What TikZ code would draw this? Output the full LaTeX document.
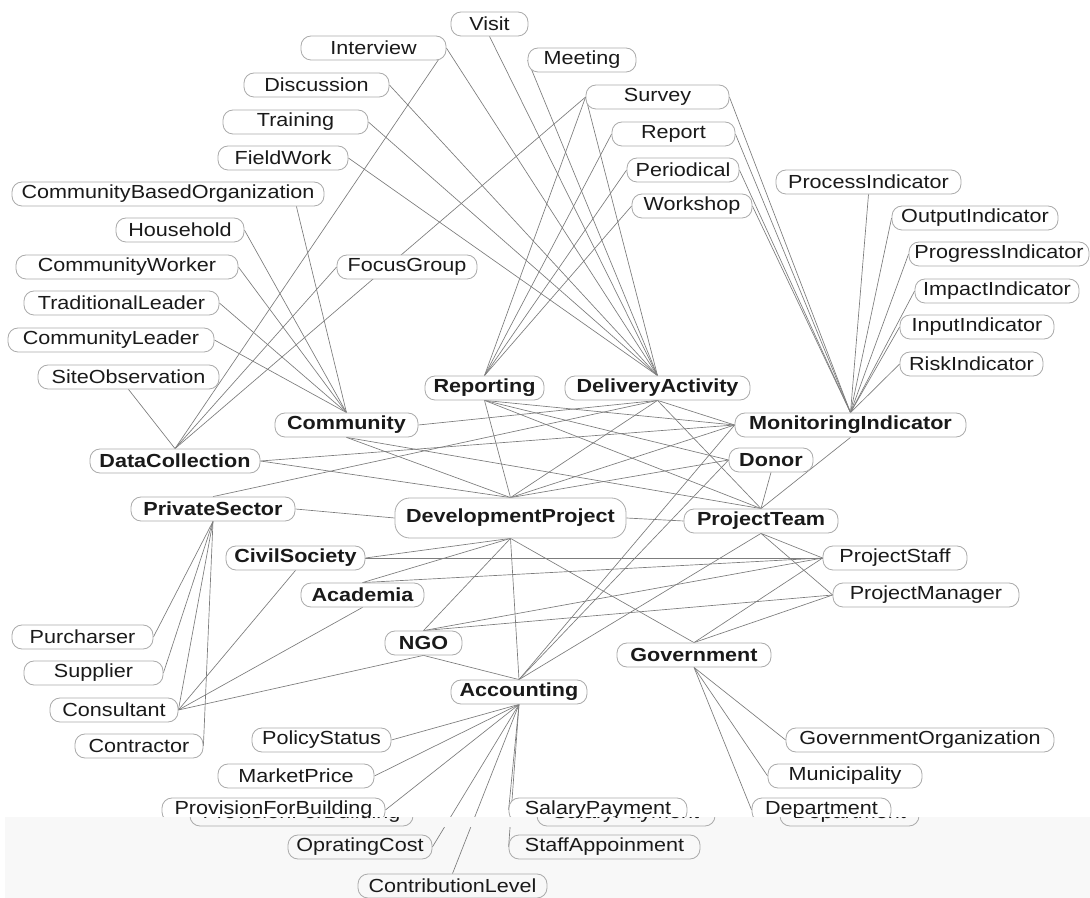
\documentclass[tikz,border=0pt]{standalone}
\usepackage{fontspec}
\setmainfont[FakeStretch=1.14]{Liberation Sans}
\usetikzlibrary{calc}
\definecolor{boxgray}{HTML}{ABABAB}
\definecolor{linegray}{HTML}{7C7C7C}
\definecolor{txt}{HTML}{1A1A1A}
\definecolor{bandc}{HTML}{F8F8F8}
\pgfdeclarelayer{back}\pgfdeclarelayer{edges}\pgfdeclarelayer{front}
\pgfsetlayers{back,edges,main,front}
\tikzset{
  box/.style={draw=boxgray, line width=0.6pt, rounded corners=7.5pt, minimum height=18pt,
    inner sep=0pt, fill=white, text=txt, font=\fontsize{14.2}{16}\selectfont},
  hub/.style={box, font=\fontsize{14.2}{16}\selectfont\bfseries},
  nw/.style={minimum width=#1*0.75pt},
  conn/.style={draw=linegray, line width=0.5pt}
}
\begin{document}
\begin{tikzpicture}[x=0.75pt,y=-0.75pt]
\useasboundingbox (0,0) rectangle (1090,898);
\begin{pgfonlayer}{back}
\fill[bandc] (5,817) rectangle (1090,898);
\end{pgfonlayer}
% leaves top-left
\node[box,nw=77]  (visit) at (489.5,24) {Visit};
\node[box,nw=145] (interview) at (373.5,48) {Interview};
\node[box,nw=145] (discussion) at (316.5,85) {Discussion};
\node[box,nw=145] (training) at (295.5,122) {Training};
\node[box,nw=130] (fieldwork) at (283,158) {FieldWork};
\node[box,nw=312] (cbo) at (168,194) {CommunityBasedOrganization};
\node[box,nw=128] (household) at (180,230) {Household};
\node[box,nw=222] (commworker) at (127,267) {CommunityWorker};
\node[box,nw=140] (focusgroup) at (407,267) {FocusGroup};
\node[box,nw=195] (tradleader) at (121.5,303) {TraditionalLeader};
\node[box,nw=206] (commleader) at (111,340) {CommunityLeader};
\node[box,nw=181] (siteobs) at (128.5,377) {SiteObservation};
% leaves top-right
\node[box,nw=108] (meeting) at (582,60) {Meeting};
\node[box,nw=143] (survey) at (657.5,97) {Survey};
\node[box,nw=123] (report) at (673.5,134) {Report};
\node[box,nw=112] (periodical) at (683,170) {Periodical};
\node[box,nw=120] (workshop) at (692,206) {Workshop};
\node[box,nw=185] (processind) at (868.5,182) {ProcessIndicator};
\node[box,nw=166] (outputind) at (975,218) {OutputIndicator};
\node[box,nw=180] (progressind) at (999,254) {ProgressIndicator};
\node[box,nw=164] (impactind) at (997,291) {ImpactIndicator};
\node[box,nw=154] (inputind) at (977,327) {InputIndicator};
\node[box,nw=143] (riskind) at (971.5,364) {RiskIndicator};
% hubs
\node[hub,nw=119] (reporting) at (484.5,388) {Reporting};
\node[hub,nw=185] (delivery) at (657.5,388) {DeliveryActivity};
\node[hub,nw=143] (community) at (346.5,425) {Community};
\node[hub,nw=231] (monitoring) at (850.5,425) {MonitoringIndicator};
\node[hub,nw=170] (datacoll) at (175,461) {DataCollection};
\node[hub,nw=84]  (donor) at (771,460) {Donor};
\node[hub,nw=164] (private) at (213,509) {PrivateSector};
\node[hub,nw=231,minimum height=30pt,rounded corners=11pt] (devproject) at (510.5,518) {DevelopmentProject};
\node[hub,nw=154] (projectteam) at (761,521) {ProjectTeam};
\node[hub,nw=139] (civil) at (295.5,558) {CivilSociety};
\node[box,nw=144] (projectstaff) at (895,558) {ProjectStaff};
\node[hub,nw=123] (academia) at (362.5,595) {Academia};
\node[box,nw=186] (projectmanager) at (926,595) {ProjectManager};
\node[hub,nw=77]  (ngo) at (423.5,643) {NGO};
\node[hub,nw=154] (government) at (694,655) {Government};
\node[hub,nw=136] (accounting) at (519,692) {Accounting};
% bottom leaves
\node[box,nw=141] (purcharser) at (82.5,637) {Purcharser};
\node[box,nw=139] (supplier) at (93.5,673) {Supplier};
\node[box,nw=128] (consultant) at (114,710) {Consultant};
\node[box,nw=128] (contractor) at (139,746) {Contractor};
\node[box,nw=139] (policy) at (321.5,740) {PolicyStatus};
\node[box,nw=156] (market) at (296,776) {MarketPrice};
\node[box,nw=223] (provision) at (273.5,810) {ProvisionForBuilding};
\node[box,nw=144,fill=none] (oprating) at (360,847) {OpratingCost};
\node[box,nw=189,fill=none] (contribution) at (452.5,886) {ContributionLevel};
\node[box,nw=178] (salary) at (598,810) {SalaryPayment};
\node[box,nw=191,fill=none] (staff) at (604.5,847) {StaffAppoinment};
\node[box,nw=268] (govorg) at (920,740) {GovernmentOrganization};
\node[box,nw=154] (municipality) at (845,776) {Municipality};
\node[box,nw=139] (department) at (821.5,810) {Department};

\begin{pgfonlayer}{edges}
\draw[conn] (siteobs.south) -- (datacoll.north);
\draw[conn] (interview.east) -- (datacoll.north);
\draw[conn] (focusgroup.west) -- (datacoll.north);
\draw[conn] (survey.west) -- (datacoll.north);
\draw[conn] ($(cbo.south east)+(-28,0)$) -- (community.north);
\draw[conn] (household.east) -- (community.north);
\draw[conn] (commworker.east) -- (community.north);
\draw[conn] (tradleader.east) -- (community.north);
\draw[conn] (commleader.east) -- (community.north);
\foreach \n in {visit.south,meeting.west,interview.east,discussion.east,training.east,fieldwork.east,survey.west}
  \draw[conn] (\n) -- (delivery.north);
\foreach \n in {survey,report,periodical,workshop}{
  \draw[conn] (\n.west) -- (reporting.north);
  \draw[conn] (\n.east) -- (monitoring.north);}
\draw[conn] (processind.south) -- (monitoring.north);
\foreach \n in {outputind,progressind,impactind,inputind,riskind}
  \draw[conn] (\n.west) -- (monitoring.north);
% hub to hub
\draw[conn] (community.east) -- (delivery.south);
\draw[conn] (community.south) -- (projectteam.north);
\draw[conn] (community.south) -- (devproject.north);
\draw[conn] (datacoll.east) -- (monitoring.west);
\draw[conn] (datacoll.east) -- (devproject.north);
\draw[conn] (private.north) -- (delivery.south);
\draw[conn] (private.east) -- (devproject.west);
\draw[conn] (reporting.south) -- (devproject.north);
\draw[conn] (reporting.south) -- (monitoring.west);
\draw[conn] (reporting.south) -- (donor.west);
\draw[conn] (reporting.south) -- (projectteam.north);
\draw[conn] (delivery.south) -- (devproject.north);
\draw[conn] (delivery.south) -- (projectteam.north);
\draw[conn] (delivery.south) -- (monitoring.west);
\draw[conn] (devproject.north) -- (monitoring.west);
\draw[conn] (devproject.north) -- (donor.west);
\draw[conn] (devproject.east) -- (projectteam.west);
\foreach \n in {civil.east,academia.north,ngo.north,accounting.north,government.north}
  \draw[conn] (devproject.south) -- (\n);
\draw[conn] (monitoring.south) -- (projectteam.north);
\draw[conn] (donor.south) -- (projectteam.north);
\draw[conn] (projectteam.south) -- (projectstaff.west);
\draw[conn] (projectteam.south) -- (projectmanager.west);
\draw[conn] (projectteam.south) -- (accounting.north);
\draw[conn] (civil.east) -- (projectstaff.west);
\draw[conn] (academia.north) -- (projectstaff.west);
\draw[conn] (ngo.north) -- (projectstaff.west);
\draw[conn] (ngo.north) -- (projectmanager.west);
\draw[conn] (government.north) -- (projectstaff.west);
\draw[conn] (government.north) -- (projectmanager.west);
\draw[conn] (accounting.north) -- (monitoring.west);
\draw[conn] (accounting.north) -- (donor.west);
\draw[conn] (ngo.south) -- (accounting.north);
\draw[conn] (ngo.south) -- (consultant.east);
\draw[conn] (academia.south) -- (consultant.east);
\draw[conn] (civil.south) -- (consultant.east);
\foreach \n in {purcharser,supplier,consultant,contractor}
  \draw[conn] (private.south) -- (\n.east);
\foreach \n in {policy.east,market.east,provision.east,oprating.east,contribution.north,salary.west,staff.west}
  \draw[conn] (accounting.south) -- (\n);
\foreach \n in {govorg,municipality,department}
  \draw[conn] (government.south) -- (\n.west);
\end{pgfonlayer}

\begin{pgfonlayer}{front}
\fill[bandc] (5,817) rectangle (1090,827);
\begin{scope}
\clip (5,817) rectangle (1090,827);
\node[box,nw=223,fill=none] (provisionB) at (301.5,814) {ProvisionForBuilding};
\node[box,nw=178,fill=none] (salaryB) at (626,814) {SalaryPayment};
\node[box,nw=139,fill=none] (departmentB) at (849.5,814) {Department};
\end{scope}
\end{pgfonlayer}
\end{tikzpicture}
\end{document}
